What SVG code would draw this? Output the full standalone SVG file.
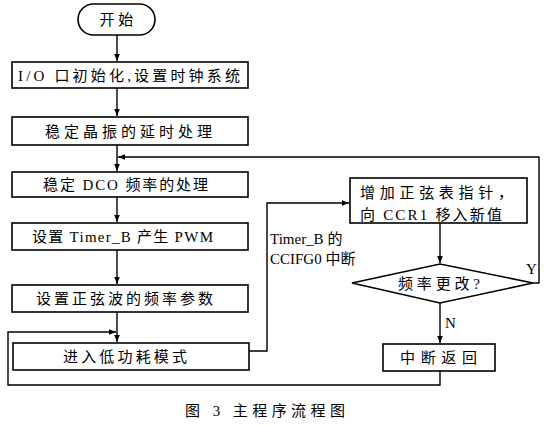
<svg xmlns="http://www.w3.org/2000/svg" width="546" height="426" viewBox="0 0 546 426">
<defs>
<marker id="ah" viewBox="0 0 10 10" refX="10" refY="5" markerWidth="7" markerHeight="7" markerUnits="userSpaceOnUse" orient="auto">
<path d="M0,1 L10,5 L0,9 Z" fill="#000"/>
</marker>
<style>
.b{fill:#fff;stroke:#000;stroke-width:1.6}
.l{fill:none;stroke:#000;stroke-width:1.4}
.t{font-family:"Liberation Serif","Noto Sans CJK SC",serif;font-size:15px;fill:#000}
.m{text-anchor:middle}
</style>
</defs>
<rect width="546" height="426" fill="#fff"/>
<g id="connectors">
<path class="l" d="M117,35 V61" marker-end="url(#ah)"/>
<path class="l" d="M117,88 V116" marker-end="url(#ah)"/>
<path class="l" d="M117,145 V171" marker-end="url(#ah)"/>
<path class="l" d="M117,197 V222" marker-end="url(#ah)"/>
<path class="l" d="M117,250 V284" marker-end="url(#ah)"/>
<path class="l" d="M117,312 V342" marker-end="url(#ah)"/>
<path class="l" d="M249,351 H267 V203 H349" marker-end="url(#ah)"/>
<path class="l" d="M440,223 V263" marker-end="url(#ah)"/>
<path class="l" d="M533,283 H539 V157 H118" marker-end="url(#ah)"/>
<path class="l" d="M440,303 V343" marker-end="url(#ah)"/>
<path class="l" d="M440,371 V385 H8 V332 H116" marker-end="url(#ah)"/>
</g>
<g id="start">
<rect class="b" x="78" y="4" width="77" height="31" rx="15.5"/>
<text class="t m" x="116.5" y="25" font-size="16">开 始</text>
</g>
<g id="n1">
<rect class="b" x="12" y="62" width="236" height="26"/>
<text class="t" x="18" y="81" textLength="222" lengthAdjust="spacing">I/O 口初始化,设置时钟系统</text>
</g>
<g id="n2">
<rect class="b" x="12" y="117" width="236" height="28"/>
<text class="t" x="45" y="137" textLength="167" lengthAdjust="spacing">稳定晶振的延时处理</text>
</g>
<g id="n3">
<rect class="b" x="12" y="172" width="236" height="25"/>
<text class="t" x="43" y="190" textLength="165" lengthAdjust="spacing">稳定 DCO 频率的处理</text>
</g>
<g id="n4">
<rect class="b" x="12" y="223" width="236" height="27"/>
<text class="t" x="32" y="242" textLength="181" lengthAdjust="spacing">设置 Timer_B 产生 PWM</text>
</g>
<g id="n5">
<rect class="b" x="12" y="285" width="236" height="27"/>
<text class="t" x="36" y="304" textLength="177" lengthAdjust="spacing">设置正弦波的频率参数</text>
</g>
<g id="n6">
<rect class="b" x="13" y="343" width="236" height="27"/>
<text class="t" x="63" y="362" textLength="124" lengthAdjust="spacing">进入低功耗模式</text>
</g>
<g id="r1">
<rect class="b" x="350" y="178" width="177" height="45"/>
<text class="t" x="360" y="198" textLength="153" lengthAdjust="spacing">增加正弦表指针，</text>
<text class="t" x="360" y="220" textLength="142" lengthAdjust="spacing">向 CCR1 移入新值</text>
</g>
<g id="d1">
<polygon class="b" points="352,283 440,264 533,283 440,303"/>
<text class="t" x="398" y="289" textLength="82" lengthAdjust="spacing">频率更改?</text>
</g>
<g id="r2">
<rect class="b" x="383" y="344" width="112" height="27"/>
<text class="t" x="400" y="363" textLength="77" lengthAdjust="spacing">中断返回</text>
</g>
<g id="labels">
<text class="t" x="270" y="244" font-size="14">Timer_B 的</text>
<text class="t" x="270" y="264" font-size="13">CCIFG0 中断</text>
<text class="t" x="526" y="274" font-size="14">Y</text>
<text class="t" x="445" y="328" font-size="14">N</text>
<text class="t" x="185" y="416" textLength="160" lengthAdjust="spacing">图 3  主程序流程图</text>
</g>
</svg>
